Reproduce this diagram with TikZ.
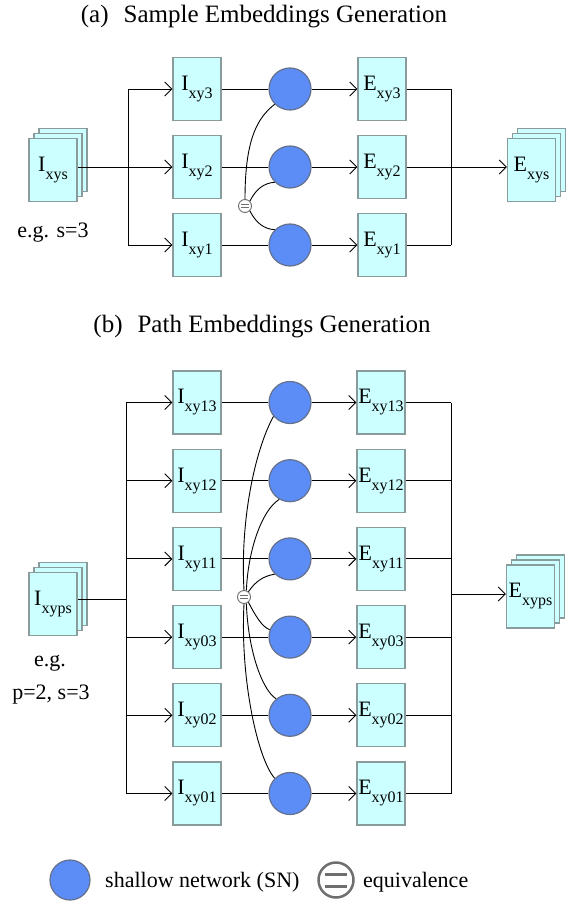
\documentclass[tikz,border=0pt]{standalone}
\usepackage{fontspec}
\setmainfont{Liberation Serif}
\newfontfamily\tnr{Liberation Serif}
\usetikzlibrary{arrows.meta}
\definecolor{boxfill}{RGB}{204,255,255}
\definecolor{boxline}{RGB}{138,155,155}
\definecolor{snfill}{RGB}{92,141,246}
\definecolor{snline}{RGB}{100,112,140}
\definecolor{eqline}{RGB}{110,110,110}
\newcommand{\lbl}[2]{#1\raisebox{-8pt}{\fontsize{16}{16}\selectfont #2}}
\begin{document}
\begin{tikzpicture}[x=1pt,y=-1pt,
  font=\tnr\fontsize{22}{24}\selectfont,
  blk/.style={draw=boxline, fill=boxfill, line width=1.3pt, minimum width=48pt, minimum height=63pt, inner sep=0pt},
  sn/.style={circle, draw=snline, fill=snfill, line width=1.2pt, minimum size=42pt, inner sep=0pt},
  eqv/.style={circle, draw=eqline, fill=white, line width=0.9pt, minimum size=13pt, inner sep=0pt},
  con/.style={line width=0.9pt},
  arr/.style={con, -{Straight Barb[length=7pt,width=14pt]}},
  ttl/.style={font=\tnr\fontsize{25}{27}\selectfont, anchor=base}
  ]
\useasboundingbox (0,0) rectangle (575,901);

% ---------- titles
\node[ttl] (ta) at (264,23) {(a)\hspace{15pt}Sample Embeddings Generation};
\node[ttl] (tb) at (262,332) {(b)\hspace{15pt}Path Embeddings Generation};

% ---------- part (a)
\node[blk] (sIa3) at (63,160) {};
\node[blk] (sIa2) at (58,165) {};
\node[blk] (sIa) at (53,170) {\lbl{I}{xys}};
\node[anchor=base] (ega) at (53,237) {e.g. s=3};

\node[blk] (sEa3) at (541.5,160) {};
\node[blk] (sEa2) at (536.5,165) {};
\node[blk] (sEa) at (531.5,170) {\lbl{E}{xys}};

\coordinate (ba) at (128,167);
\coordinate (ma) at (451,167);

\foreach \n/\y in {3/89, 2/167, 1/245} {
  \node[blk] (ia\n) at (197,\y) {\lbl{I}{xy\n}};
  \node[sn] (ca\n) at (290,\y) {};
  \node[blk] (ea\n) at (382,\y) {\lbl{E}{xy\n}};
  \draw[con] (ia\n) -- (ca\n);
  \draw[arr] (ca\n) -- (ea\n);
  \draw[con] (ea\n.east) -- (ma |- ea\n.east);
}
\draw[arr] (sIa.east |- ia2) -- (ia2.west);
\draw[con] (ba |- ia3) -- (ba |- ia1);
\draw[arr] (ba |- ia3) -- (ia3.west);
\draw[arr] (ba |- ia1) -- (ia1.west);
\draw[con] (ma |- ea3) -- (ma |- ea1);
\draw[arr] (ea2.east) -- (sEa.west |- ea2);

\node[eqv] (eqa) at (245,206) {};
\draw[eqline, line width=0.9pt] ([xshift=-4pt,yshift=1.8pt]eqa.center) -- ([xshift=4pt,yshift=1.8pt]eqa.center);
\draw[eqline, line width=0.9pt] ([xshift=-4pt,yshift=-1.8pt]eqa.center) -- ([xshift=4pt,yshift=-1.8pt]eqa.center);
\draw[con] (eqa.north) .. controls (245,140) and (257,118) .. (ca3.225);
\draw[con] (eqa.45) .. controls (256,189) and (264,183) .. (ca2.225);
\draw[con] (eqa.-45) .. controls (256,223) and (264,229) .. (ca1.135);

% ---------- part (b)
\node[blk] (sIb3) at (63,594) {};
\node[blk] (sIb2) at (58,599) {};
\node[blk] (sIb) at (53,604) {\lbl{I}{xyps}};
\node[anchor=base] (egb1) at (50,666) {e.g.};
\node[anchor=base] (egb2) at (51,699) {p=2, s=3};

\node[blk] (sEb3) at (540.5,586.5) {};
\node[blk] (sEb2) at (535.5,591.5) {};
\node[blk] (sEb) at (530.5,596.5) {\lbl{E}{xyps}};

\coordinate (bb) at (126,599);
\coordinate (mb) at (451,594);

\foreach \n/\y in {13/402.5, 12/480.7, 11/558.9, 03/637.1, 02/715.3, 01/793.5} {
  \node[blk] (ib\n) at (197,\y) {\lbl{I}{xy\n}};
  \node[sn] (cb\n) at (290,\y) {};
  \node[blk] (eb\n) at (381,\y) {\lbl{E}{xy\n}};
  \draw[con] (ib\n) -- (cb\n);
  \draw[arr] (cb\n) -- (eb\n);
  \draw[con] (eb\n.east) -- (mb |- eb\n.east);
  \draw[arr] (bb |- ib\n) -- (ib\n.west);
}
\draw[con] (sIb.east |- bb) -- (bb);
\draw[con] (bb |- ib13) -- (bb |- ib01);
\draw[con] (mb |- eb13) -- (mb |- eb01);
\draw[arr] (mb) -- (sEb.west |- mb);

\node[eqv] (eqb) at (244,597) {};
\draw[eqline, line width=0.9pt] ([xshift=-4pt,yshift=1.8pt]eqb.center) -- ([xshift=4pt,yshift=1.8pt]eqb.center);
\draw[eqline, line width=0.9pt] ([xshift=-4pt,yshift=-1.8pt]eqb.center) -- ([xshift=4pt,yshift=-1.8pt]eqb.center);
\draw[con] (eqb.north) .. controls (240,520) and (255,450) .. (cb13.220);
\draw[con] (eqb.70) .. controls (248,550) and (262,510) .. (cb12.240);
\draw[con] (eqb.50) .. controls (255,582) and (263,576) .. (cb11.225);
\draw[con] (eqb.-50) .. controls (255,615) and (262,627) .. (cb03.160);
\draw[con] (eqb.-70) .. controls (248,650) and (262,690) .. (cb02.130);
\draw[con] (eqb.south) .. controls (240,680) and (258,760) .. (cb01.135);

% ---------- legend
\node[sn, minimum size=40pt] (lsn) at (70,880) {};
\node[anchor=base west, inner sep=0pt] (lsnt) at (105,887) {shallow network (SN)};
\node[eqv, minimum size=35pt, line width=2.5pt] (leq) at (336,880) {};
\draw[eqline, line width=3pt] ([xshift=-11pt,yshift=6pt]leq.center) -- ([xshift=11pt,yshift=6pt]leq.center);
\draw[eqline, line width=3pt] ([xshift=-11pt,yshift=-6pt]leq.center) -- ([xshift=11pt,yshift=-6pt]leq.center);
\node[anchor=base west, inner sep=0pt] (leqt) at (363,887) {equivalence};
\end{tikzpicture}
\end{document}
